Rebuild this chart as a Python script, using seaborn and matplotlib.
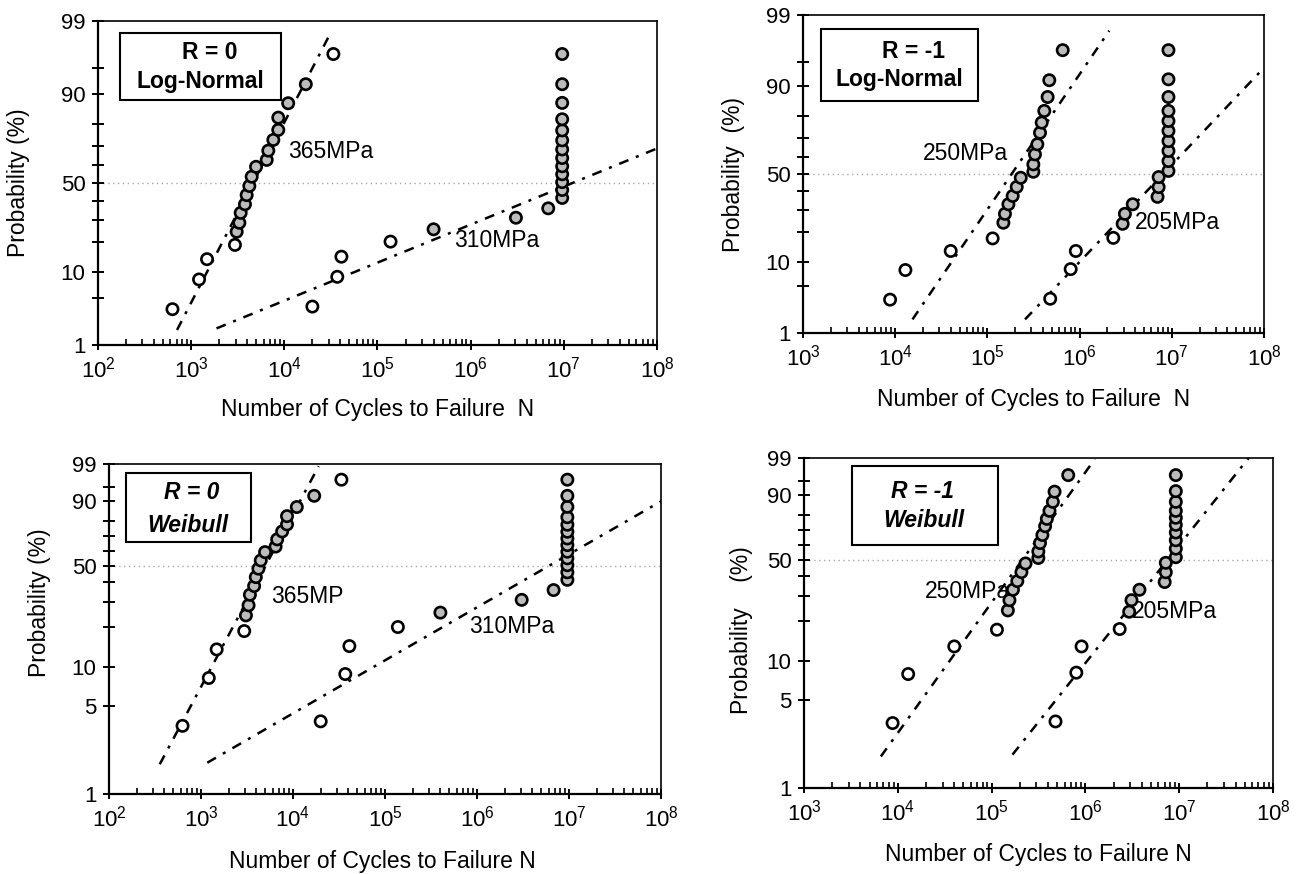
import math
import numpy as np
import pandas as pd
import matplotlib
matplotlib.use("Agg")
import matplotlib.pyplot as plt
from matplotlib.ticker import FixedLocator, NullFormatter, LogLocator, LogFormatterMathtext, FuncFormatter
from matplotlib.patches import Rectangle
import seaborn as sns

# ---------------- data ----------------
# R = 0, 365 MPa
R0_365_N = [630, 1215, 1480, 2950, 3080, 3290, 3400, 3780, 3940, 4210,
            4460, 4970, 6470, 6730, 7620, 8610, 8610, 11000, 17000, 33600]
R0_365_P = [3.5, 8.3, 13.7, 18.7, 24.2, 28.4, 33.4, 38.0, 43.1, 48.3,
            53.6, 59.2, 63.0, 67.9, 73.2, 77.7, 82.6, 87.4, 92.2, 96.8]
R0_365_FILLED = [0, 0, 0, 0, 1, 1, 1, 1, 1, 1, 1, 1, 1, 1, 1, 1, 1, 1, 1, 0]
# R = 0, 310 MPa (runouts at ~1e7)
R0_310_N = [20000, 37000, 41000, 138000, 400000, 3060000, 6800000,
            9.6e6, 9.6e6, 9.6e6, 9.6e6, 9.6e6, 9.6e6, 9.6e6, 9.6e6, 9.6e6,
            9.6e6, 9.6e6, 9.6e6, 9.6e6]
R0_310_P = [3.8, 8.9, 14.5, 20.0, 25.3, 30.9, 35.8,
            41.5, 46.0, 50.5, 55.0, 59.5, 64.0, 68.5, 73.0, 77.5, 82.0, 87.5, 92.2, 96.8]
R0_310_FILLED = [0, 0, 0, 0, 1, 1, 1, 1, 1, 1, 1, 1, 1, 1, 1, 1, 1, 1, 1, 1]
# R = -1, 250 MPa
R1_250_N = [8800, 12900, 40000, 114000, 149000, 155000, 169000, 188000, 208000, 230000,
            315000, 315000, 328000, 348000, 372000, 388000, 414000, 450000, 469000, 656000]
R1_250_P = [3.3, 8.0, 13.0, 17.3, 23.8, 28.0, 32.9, 37.4, 42.5, 47.8,
            51.3, 55.6, 61.3, 66.8, 72.7, 77.4, 82.2, 87.0, 91.5, 96.5]
R1_250_FILLED = [0, 0, 0, 0, 1, 1, 1, 1, 1, 1, 1, 1, 1, 1, 1, 1, 1, 1, 1, 1]
# R = -1, 205 MPa (runouts at ~1e7)
R1_205_N = [480000, 800000, 910000, 2320000, 2930000, 3100000, 3770000, 7000000, 7200000, 7200000,
            9.2e6, 9.2e6, 9.2e6, 9.2e6, 9.2e6, 9.2e6, 9.2e6, 9.2e6, 9.2e6, 9.2e6]
R1_205_P = [3.4, 8.2, 13.0, 17.5, 23.3, 28.0, 32.9, 36.9, 42.4, 48.2,
            51.8, 57.5, 63.2, 68.5, 73.6, 78.1, 82.2, 87.0, 91.7, 96.5]
R1_205_FILLED = [0, 0, 0, 0, 1, 1, 1, 1, 1, 1, 1, 1, 1, 1, 1, 1, 1, 1, 1, 1]

# fitted distribution lines: end points (N, P%)
LN_365_N, LN_365_P = [705, 30400], [1.74, 98.3]
LN_310_N, LN_310_P = [1870, 1e8], [1.84, 69.0]
LN_250_N, LN_250_P = [15400, 2.1e6], [1.67, 98.2]
LN_205_N, LN_205_P = [256000, 1e8], [1.67, 94.0]
WB_365_N, WB_365_P = [356, 19000], [1.73, 98.8]
WB_310_N, WB_310_P = [1170, 1e8], [1.78, 90.0]
WB_250_N, WB_250_P = [6600, 1.26e6], [1.79, 98.9]
WB_205_N, WB_205_P = [167000, 5.5e7], [1.85, 99.0]

LN_MAJOR = [1, 10, 50, 90, 99]
LN_MINOR = [5, 20, 30, 40, 60, 70, 80, 95]
WB_MAJOR = [1, 5, 10, 50, 90, 99]
WB_MINOR = [20, 30, 40, 60, 70, 80, 95]

# ---------------- probability scales ----------------
_a = [-3.969683028665376e+01, 2.209460984245205e+02, -2.759285104469687e+02,
      1.383577518672690e+02, -3.066479806614716e+01, 2.506628277459239e+00]
_b = [-5.447609879822406e+01, 1.615858368580409e+02, -1.556989798598866e+02,
      6.680131188771972e+01, -1.328068155288572e+01]
_c = [-7.784894002430293e-03, -3.223964580411365e-01, -2.400758277161838e+00,
      -2.549671010229583e+00, 4.374664141464968e+00, 2.938163982698783e+00]
_d = [7.784695709041462e-03, 3.224671290700398e-01, 2.445134137142996e+00,
      3.754408661907416e+00]


def _ppf_scalar(p):
    plow = 0.02425
    if p < plow:
        q = math.sqrt(-2 * math.log(p))
        return (((((_c[0]*q+_c[1])*q+_c[2])*q+_c[3])*q+_c[4])*q+_c[5]) / \
               ((((_d[0]*q+_d[1])*q+_d[2])*q+_d[3])*q+1)
    if p > 1 - plow:
        q = math.sqrt(-2 * math.log(1 - p))
        return -(((((_c[0]*q+_c[1])*q+_c[2])*q+_c[3])*q+_c[4])*q+_c[5]) / \
                ((((_d[0]*q+_d[1])*q+_d[2])*q+_d[3])*q+1)
    q = p - 0.5
    r = q * q
    return (((((_a[0]*r+_a[1])*r+_a[2])*r+_a[3])*r+_a[4])*r+_a[5])*q / \
           (((((_b[0]*r+_b[1])*r+_b[2])*r+_b[3])*r+_b[4])*r+1)


_ppf_vec = np.vectorize(_ppf_scalar, otypes=[float])
_erf_vec = np.vectorize(math.erf, otypes=[float])


def norm_fwd(p):
    p = np.clip(np.asarray(p, dtype=float) / 100.0, 1e-9, 1 - 1e-9)
    return _ppf_vec(p)


def norm_inv(z):
    z = np.asarray(z, dtype=float)
    return 50.0 * (1 + _erf_vec(z / math.sqrt(2)))


def wb_fwd(p):
    p = np.clip(np.asarray(p, dtype=float) / 100.0, 1e-9, 1 - 1e-9)
    return np.log(-np.log(1 - p))


def wb_inv(w):
    w = np.asarray(w, dtype=float)
    return 100.0 * (1 - np.exp(-np.exp(w)))


# ---------------- style ----------------
sns.set_theme(style="ticks")
plt.rcParams["font.family"] = ["Liberation Sans", "DejaVu Sans"]
plt.rcParams["mathtext.fontset"] = "custom"
plt.rcParams["mathtext.rm"] = "Liberation Sans"
plt.rcParams["mathtext.it"] = "Liberation Sans:italic"
plt.rcParams["mathtext.bf"] = "Liberation Sans:bold"
for key in ["text.color", "axes.labelcolor", "xtick.color", "ytick.color",
            "xtick.labelcolor", "ytick.labelcolor", "axes.edgecolor"]:
    plt.rcParams[key] = "black"

TICK_FS = 16
LABEL_FS = 16.5
DASH = (4, 3.2, 1.2, 3.2)

fig = plt.figure(figsize=(13.04, 8.74), dpi=100)


def make_panel(rect, xlim, scale, majors, minors, series, lines, box, box_texts,
               italic, labels, ylabel, ylabel_xy, xlabel, xlabel_xy):
    ax = fig.add_axes(rect)
    ax.set_xscale("log")
    if scale == "normal":
        ax.set_yscale("function", functions=(norm_fwd, norm_inv))
    else:
        ax.set_yscale("function", functions=(wb_fwd, wb_inv))
    ax.set_xlim(*xlim)
    ax.set_ylim(1, 99)

    ax.axhline(50, color="#a8a8a8", lw=1.0, ls=(0, (1, 2.5)), zorder=0.5)

    for (n, p, f) in series:
        df = pd.DataFrame({"N": n, "P": p,
                           "fill": ["filled" if v else "hollow" for v in f]})
        sns.scatterplot(data=df, x="N", y="P", hue="fill",
                        palette={"filled": "#bcbcbc", "hollow": "white"},
                        edgecolor="black", linewidth=1.9, s=66, legend=False,
                        ax=ax, zorder=3)
    for (ln, lp) in lines:
        sns.lineplot(x=ln, y=lp, ax=ax, color="black", lw=1.8,
                     estimator=None, sort=False, zorder=2)
    for line in ax.get_lines()[1:]:
        line.set_dashes(DASH)

    ax.set_xlim(*xlim)
    ax.set_ylim(1, 99)

    # ticks
    ax.xaxis.set_major_locator(LogLocator(base=10, numticks=20))
    ax.xaxis.set_minor_locator(LogLocator(base=10, subs=np.arange(2, 10), numticks=100))
    ax.xaxis.set_major_formatter(LogFormatterMathtext())
    ax.xaxis.set_minor_formatter(NullFormatter())
    ax.yaxis.set_major_locator(FixedLocator(majors))
    ax.yaxis.set_minor_locator(FixedLocator(minors))
    ax.yaxis.set_major_formatter(FuncFormatter(lambda v, pos: f"{v:g}"))
    ax.yaxis.set_minor_formatter(NullFormatter())
    ax.tick_params(axis="y", which="both", direction="inout", length=8, width=1.4,
                   labelsize=TICK_FS, pad=5, left=True, right=False, color="black")
    ax.tick_params(axis="x", which="major", direction="inout", length=7, width=1.4,
                   labelsize=TICK_FS, pad=5, bottom=True, top=False)
    ax.tick_params(axis="x", which="minor", direction="in", length=4, width=1.2,
                   bottom=True, top=False)

    for side in ["left", "bottom"]:
        ax.spines[side].set_linewidth(1.6)
        ax.spines[side].set_color("black")
    for side in ["top", "right"]:
        ax.spines[side].set_visible(True)
        ax.spines[side].set_linewidth(1.2)
        ax.spines[side].set_color("black")

    # legend box
    bx0, by0, bx1, by1 = box
    ax.add_patch(Rectangle((bx0, by0), bx1 - bx0, by1 - by0, transform=ax.transAxes,
                           fc="white", ec="black", lw=1.5, zorder=4))
    style = "italic" if italic else "normal"
    for (tx, ty, t) in box_texts:
        ax.text(tx, ty, t, transform=ax.transAxes, ha="center", va="center",
                fontsize=LABEL_FS, fontweight="bold", fontstyle=style,
                color="black", zorder=5)

    for (tx, ty, t) in labels:
        ax.text(tx, ty, t, transform=ax.transAxes, ha="left", va="center",
                fontsize=LABEL_FS, color="black", zorder=2.5)

    ax.set_ylabel(ylabel, fontsize=LABEL_FS, color="black")
    ax.yaxis.set_label_coords(*ylabel_xy)
    ax.set_xlabel(xlabel, fontsize=LABEL_FS, color="black")
    ax.xaxis.set_label_coords(*xlabel_xy)
    return ax


W, H = 1304.0, 874.0


def rect(l, r, t, b):
    return [l / W, 1 - b / H, (r - l) / W, (b - t) / H]


# top-left
make_panel(rect(98, 657, 21, 345), (1e2, 1e8), "normal", LN_MAJOR, LN_MINOR,
           [(R0_365_N, R0_365_P, R0_365_FILLED), (R0_310_N, R0_310_P, R0_310_FILLED)],
           [(LN_365_N, LN_365_P), (LN_310_N, LN_310_P)],
           (0.039, 0.756, 0.327, 0.963),
           [(0.2, 0.904, "R = 0"), (0.183, 0.812, "Log-Normal")], False,
           [(0.34, 0.596, "365MPa"), (0.637, 0.321, "310MPa")],
           "Probability (%)", (-0.122, 0.5),
           "Number of Cycles to Failure  N", (0.5, -0.165))

# top-right
make_panel(rect(803, 1264, 15, 333), (1e3, 1e8), "normal", LN_MAJOR, LN_MINOR,
           [(R1_250_N, R1_250_P, R1_250_FILLED), (R1_205_N, R1_205_P, R1_205_FILLED)],
           [(LN_250_N, LN_250_P), (LN_205_N, LN_205_P)],
           (0.039, 0.73, 0.38, 0.956),
           [(0.24, 0.884, "R = -1"), (0.21, 0.796, "Log-Normal")], False,
           [(0.26, 0.566, "250MPa"), (0.72, 0.346, "205MPa")],
           "Probability  (%)", (-0.126, 0.497),
           "Number of Cycles to Failure  N", (0.5, -0.173))

# bottom-left
make_panel(rect(109, 661, 464, 794), (1e2, 1e8), "weibull", WB_MAJOR, WB_MINOR,
           [(R0_365_N, R0_365_P, R0_365_FILLED), (R0_310_N, R0_310_P, R0_310_FILLED)],
           [(WB_365_N, WB_365_P), (WB_310_N, WB_310_P)],
           (0.031, 0.764, 0.257, 0.973),
           [(0.149, 0.915, "R = 0"), (0.143, 0.815, "Weibull")], True,
           [(0.293, 0.598, "365MP"), (0.652, 0.507, "310MPa")],
           "Probability (%)", (-0.105, 0.579),
           "Number of Cycles to Failure N", (0.496, -0.17))

# bottom-right
make_panel(rect(804, 1273, 458, 788), (1e3, 1e8), "weibull", WB_MAJOR, WB_MINOR,
           [(R1_250_N, R1_250_P, R1_250_FILLED), (R1_205_N, R1_205_P, R1_205_FILLED)],
           [(WB_250_N, WB_250_P), (WB_205_N, WB_205_P)],
           (0.102, 0.736, 0.414, 0.976),
           [(0.252, 0.897, "R = -1"), (0.256, 0.812, "Weibull")], True,
           [(0.258, 0.594, "250MPa"), (0.70, 0.534, "205MPa")],
           "Probability    (%)", (-0.108, 0.479),
           "Number of Cycles to Failure N", (0.5, -0.167))

fig.savefig("out.png", dpi=100)
